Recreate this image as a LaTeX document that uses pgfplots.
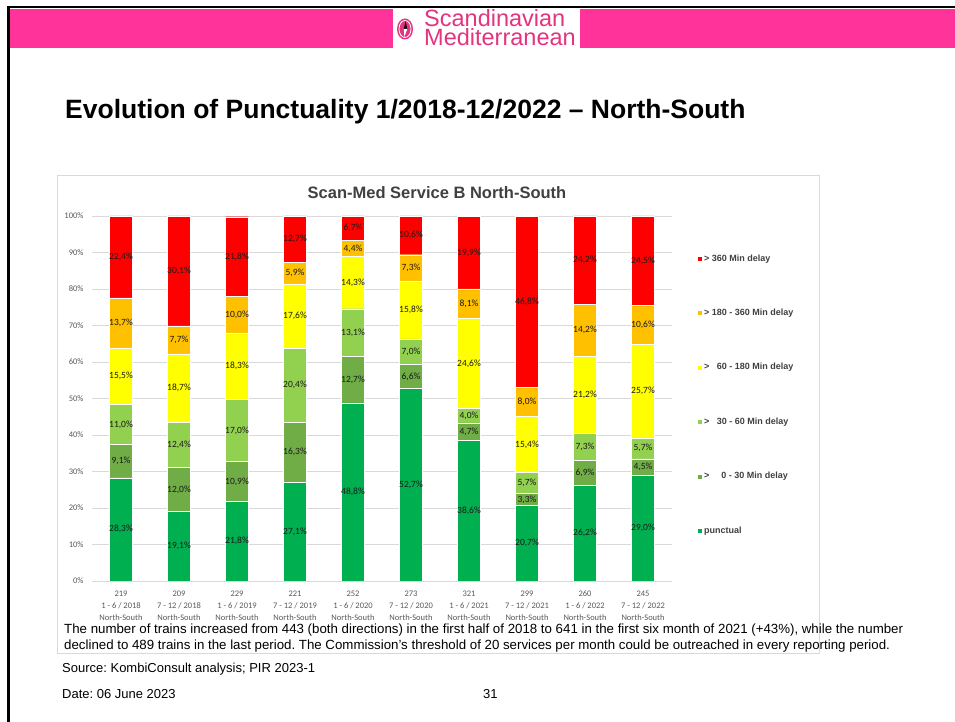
\documentclass[border=0pt]{standalone}
\usepackage{pgfplots}
\pgfplotsset{compat=1.18}
\usepackage{pgfplotstable}
\usepackage{fontspec}
\setmainfont{Liberation Sans}
\newfontfamily\calibri{Carlito}
\definecolor{cPunct}{HTML}{00B050}
\definecolor{cA}{HTML}{70AD47}
\definecolor{cB}{HTML}{92D050}
\definecolor{cC}{HTML}{FFFF00}
\definecolor{cD}{HTML}{FFC000}
\definecolor{cE}{HTML}{FF0000}
\definecolor{pinkband}{HTML}{FF3399}
\definecolor{logopink}{HTML}{E2347F}
\definecolor{gridgray}{HTML}{D9D9D9}
\definecolor{darktext}{HTML}{404040}
\definecolor{ticktext}{HTML}{595959}

\pgfplotstableread{
x p d030 d3060 d60180 d180360 d360
0 28.3 9.1 11.0 15.5 13.7 22.4
1 19.1 12.0 12.4 18.7 7.7 30.1
2 21.8 10.9 17.0 18.3 10.0 21.8
3 27.1 16.3 20.4 17.6 5.9 12.7
4 48.8 12.7 13.1 14.3 4.4 6.7
5 52.7 6.6 7.0 15.8 7.3 10.6
6 38.6 4.7 4.0 24.6 8.1 19.9
7 20.7 3.3 5.7 15.4 8.0 46.8
8 26.2 6.9 7.3 21.2 14.2 24.2
9 29.0 4.5 5.7 25.7 10.6 24.5
}\data

\begin{document}
\frenchspacing
\begin{tikzpicture}[x=1pt,y=1pt]
\useasboundingbox (0,0) rectangle (955,722);
\fill[white] (0,0) rectangle (955,722);
% slide frame
\fill[black] (7,716) rectangle (955,713.5);
\fill[black] (7,716) rectangle (9.5,0);
\fill[pinkband] (9.5,713) rectangle (955,673.5);
\fill[white] (393,713) rectangle (580,673.5);
% logo
\fill[logopink] (405,693) ellipse [x radius=8, y radius=10.5];
\draw[white, line width=0.8pt] (405,693) ellipse [x radius=6, y radius=8.5];
\fill[black] (405.6,701) -- (407.2,693) -- (403.8,693) -- cycle;
\fill[white] (403.8,693) -- (407.2,693) -- (404.4,685) -- cycle;
\node[anchor=base west, inner sep=0, text=logopink, font=\fontsize{23.5}{24}\selectfont] at (424,695) {Scandinavian};
\node[anchor=base west, inner sep=0, text=logopink, font=\fontsize{23.5}{24}\selectfont] at (424,676) {Mediterranean};
% title
\node[anchor=base west, inner sep=0, font=\bfseries\fontsize{26.5}{28}\selectfont] at (65,603) {Evolution of Punctuality 1/2018-12/2022 -- North-South};
% chart box
\draw[gridgray, line width=0.8pt, fill=white] (57,547) rectangle (819,69);
\node[anchor=base, inner sep=0, text=darktext, font=\bfseries\fontsize{16.5}{18}\selectfont] at (437,523) {Scan-Med Service B North-South};

\begin{axis}[
  at={(92pt,141pt)}, anchor=south west,
  width=580pt, height=365pt, scale only axis,
  xmin=-0.5, xmax=9.5, ymin=0, ymax=100,
  ybar stacked, bar width=23pt,
  axis line style={draw=none},
  major tick length=0pt,
  ymajorgrids, grid style={color=gridgray, line width=0.8pt},
  xtick={0,...,9},
  xticklabels={
    {219\\1 - 6 / 2018\\North-South},
    {209\\7 - 12 / 2018\\North-South},
    {229\\1 - 6 / 2019\\North-South},
    {221\\7 - 12 / 2019\\North-South},
    {252\\1 - 6 / 2020\\North-South},
    {273\\7 - 12 / 2020\\North-South},
    {321\\1 - 6 / 2021\\North-South},
    {299\\7 - 12 / 2021\\North-South},
    {260\\1 - 6 / 2022\\North-South},
    {245\\7 - 12 / 2022\\North-South}},
  xticklabel style={align=center, text=ticktext, font=\calibri\fontsize{8.5}{12}\selectfont, yshift=-6pt},
  ytick={0,10,...,100},
  yticklabels={0\%,10\%,20\%,30\%,40\%,50\%,60\%,70\%,80\%,90\%,100\%},
  yticklabel style={text=ticktext, font=\calibri\fontsize{8.5}{10}\selectfont, xshift=-5pt},
  visualization depends on=rawy \as \rawy,
  nodes near coords={\pgfmathprintnumber[fixed,fixed zerofill,precision=1,use comma,assume math mode=true]{\rawy}\%},
  every node near coord/.append style={anchor=center, text=black!90, font=\calibri\fontsize{9.5}{10}\selectfont, inner sep=0pt},
  reverse legend,
  legend cell align=left,
  legend style={draw=none, fill=none, at={(1.043,0.899)}, anchor=north west, inner sep=0pt,
    row sep=43.4pt, text=darktext, font=\bfseries\fontsize{9}{10}\selectfont,
    nodes={inner sep=1.5pt}},
  sq/.style={legend image code/.code={\fill[##1] (0pt,-2.6pt) rectangle (5.2pt,2.6pt);}},
]
\addplot+[fill=cPunct, draw=white, line width=0.3pt, sq] table[x=x,y=p]{\data};
\addlegendentry{punctual}
\addplot+[fill=cA, draw=white, line width=0.3pt, sq] table[x=x,y=d030]{\data};
\addlegendentry{> \phantom{11}0 - 30 Min delay}
\addplot+[fill=cB, draw=white, line width=0.3pt, sq] table[x=x,y=d3060]{\data};
\addlegendentry{> \phantom{1}30 - 60 Min delay}
\addplot+[fill=cC, draw=white, line width=0.3pt, sq] table[x=x,y=d60180]{\data};
\addlegendentry{> \phantom{1}60 - 180 Min delay}
\addplot+[fill=cD, draw=white, line width=0.3pt, sq] table[x=x,y=d180360]{\data};
\addlegendentry{> 180 - 360 Min delay}
\addplot+[fill=cE, draw=white, line width=0.3pt, sq] table[x=x,y=d360]{\data};
\addlegendentry{> 360 Min delay}
\end{axis}

% texts
\node[anchor=base west, inner sep=0, font=\fontsize{13.28}{15}\selectfont] at (64,88) {The number of trains increased from 443 (both directions) in the first half of 2018 to 641 in the first six month of 2021 (+43\%), while the number};
\node[anchor=base west, inner sep=0, font=\fontsize{13.28}{15}\selectfont] at (64,72.7) {declined to 489 trains in the last period. The Commission’s threshold of 20 services per month could be outreached in every reporting period.};
\node[anchor=base west, inner sep=0, font=\fontsize{13}{15}\selectfont] at (62,49.3) {Source: KombiConsult analysis; PIR 2023-1};
\node[anchor=base west, inner sep=0, font=\fontsize{13}{15}\selectfont] at (62,23) {Date: 06 June 2023};
\node[anchor=base west, inner sep=0, font=\fontsize{13}{15}\selectfont] at (483,23) {31};
\end{tikzpicture}
\end{document}
